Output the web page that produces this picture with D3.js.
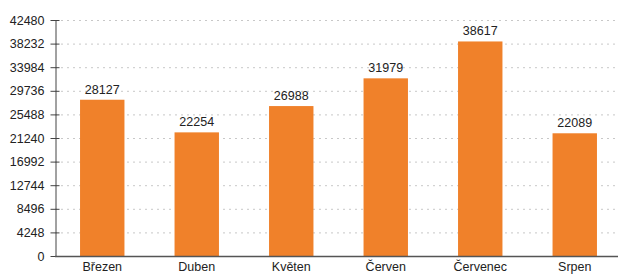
<!DOCTYPE html>
<html>
<head>
<meta charset="utf-8">
<script src="https://cdn.jsdelivr.net/npm/d3@7"></script>
<style>
  body { margin: 0; background: #fff; }
  svg text { font-family: "Liberation Sans", Arial, sans-serif; fill: #222; }
</style>
</head>
<body>
<div id="chart"></div>
<script>
// months and visit counts
var months = ["Březen", "Duben", "Květen", "Červen", "Červenec", "Srpen"]
var visits = [28127, 22254, 26988, 31979, 38617, 22089]
var yTicks = [0, 4248, 8496, 12744, 16992, 21240, 25488, 29736, 33984, 38232, 42480]

var width = 618
var height = 275
var axisX = 55
var baseY = 256
var topY = 20

var svg = d3.select("#chart").append("svg")
    .attr("width", width)
    .attr("height", height)

var xScale = d3.scaleBand()
    .domain(months)
    .range([axisX, 622])
    .paddingInner(0.53)
    .paddingOuter(0.265)

var yScale = d3.scaleLinear()
    .domain([0, 42480])
    .range([baseY, topY])

// dotted grid
svg.selectAll(".grid")
    .data(yTicks.slice(1))
    .enter()
    .append("line")
    .attr("class", "grid")
    .attr("x1", axisX)
    .attr("x2", width)
    .attr("y1", function(d) { return yScale(d) + 0.5 })
    .attr("y2", function(d) { return yScale(d) + 0.5 })
    .style("stroke", "#c8c8c8")
    .style("stroke-dasharray", "2,4")

// bars
svg.selectAll(".bar")
    .data(visits)
    .enter()
    .append("rect")
    .attr("class", "bar")
    .attr("x", function(d, i) { return xScale(months[i]) })
    .attr("y", function(d) { return yScale(d) })
    .attr("width", xScale.bandwidth())
    .attr("height", function(d) { return baseY - yScale(d) })
    .style("fill", "#f0812a")

// value labels
svg.selectAll(".val")
    .data(visits)
    .enter()
    .append("text")
    .attr("class", "val")
    .attr("x", function(d, i) { return xScale(months[i]) + xScale.bandwidth() / 2 })
    .attr("y", function(d) { return yScale(d) - 6 })
    .attr("text-anchor", "middle")
    .style("font-size", "12.5px")
    .text(function(d) { return d })

// y axis
var yAxis = d3.axisLeft(yScale)
    .tickValues(yTicks)
    .tickFormat(d3.format("d"))
    .tickSizeInner(5)
    .tickSizeOuter(0)
svg.append("g")
    .attr("transform", "translate(" + (axisX + 0.5) + ",0)")
    .call(yAxis)
    .call(function(g) {
      g.select(".domain").style("stroke", "#444")
      g.selectAll(".tick line").attr("x1", -5).attr("x2", 4).style("stroke", "#444")
      g.selectAll(".tick text").attr("x", -11).style("font-size", "12.5px").style("font-family", "Liberation Sans, Arial, sans-serif").style("fill", "#222")
    })

// x axis
var xAxis = d3.axisBottom(xScale).tickSize(0)
var xg = svg.append("g")
    .attr("transform", "translate(0," + (baseY + 0.5) + ")")
    .call(xAxis)
xg.select(".domain").remove()
xg.selectAll(".tick text")
    .attr("y", 6)
    .style("font-size", "12.5px")
    .style("font-family", "Liberation Sans, Arial, sans-serif")
    .style("fill", "#222")
svg.append("line")
    .attr("x1", axisX)
    .attr("x2", width)
    .attr("y1", baseY + 0.5)
    .attr("y2", baseY + 0.5)
    .style("stroke", "#555")
    .style("stroke-width", 1.5)
</script>
</body>
</html>
